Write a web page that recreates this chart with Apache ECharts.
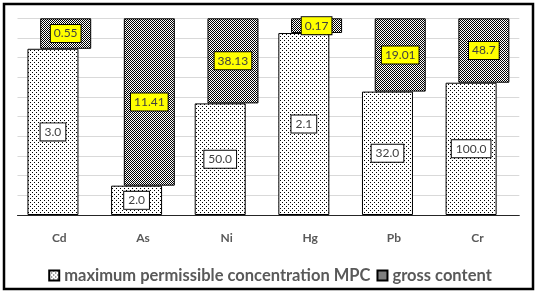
<!DOCTYPE html>
<html>
<head>
<meta charset="utf-8">
<script src="https://cdn.jsdelivr.net/npm/echarts@6/dist/echarts.min.js"></script>
<style>
  html, body { margin: 0; padding: 0; background: #fff; }
  #main { width: 540px; height: 293px; }
</style>
</head>
<body>
<div id="main"></div>
<script>
// metals and their values (labels on the bars)
let metals = ['Cd', 'As', 'Ni', 'Hg', 'Pb', 'Cr'];
let mpcValues = [3.0, 2.0, 50.0, 2.1, 32.0, 100.0];
let grossValues = [0.55, 11.41, 38.13, 0.17, 19.01, 48.7];
let mpcLabels = ['3.0', '2.0', '50.0', '2.1', '32.0', '100.0'];
let grossLabels = ['0.55', '11.41', '38.13', '0.17', '19.01', '48.7'];

// 100% stacked: share of each part in the column total
let mpcShare = mpcValues.map((v, i) => v / (v + grossValues[i]) * 100);
let grossShare = grossValues.map((v, i) => v / (v + mpcValues[i]) * 100);

// fill patterns like the excel ones
function makePattern(size, draw) {
    let c = document.createElement('canvas');
    c.width = size;
    c.height = size;
    let ctx = c.getContext('2d');
    ctx.fillStyle = '#fff';
    ctx.fillRect(0, 0, size, size);
    ctx.fillStyle = '#000';
    draw(ctx);
    return c;
}
let dotted = makePattern(4, function(ctx) {
    ctx.fillRect(0, 0, 1, 1);
    ctx.fillRect(2, 2, 1, 1);
});
let checker = makePattern(2, function(ctx) {
    ctx.fillRect(0, 0, 1, 1);
    ctx.fillRect(1, 1, 1, 1);
});

let myChart = echarts.init(document.getElementById('main'), null, {renderer: 'canvas'});

let labelFont = 'Lato, "Open Sans", sans-serif';

let option = {
    animation: false,
    backgroundColor: '#fff',
    grid: {
        left: 17.5,
        right: 20.7,
        top: 18.3,
        bottom: 78
    },
    legend: {
        top: 262,
        left: 'center',
        itemWidth: 10,
        itemHeight: 10,
        itemGap: 6,
        icon: 'rect',
        data: ['maximum permissible concentration MPC', 'gross content'],
        textStyle: {
            color: '#595959',
            fontFamily: labelFont,
            fontSize: 16.5,
            fontWeight: 'bold',
            padding: [0, 0, 0, 0]
        }
    },
    xAxis: {
        type: 'category',
        data: metals,
        axisLine: { lineStyle: { color: '#262626', width: 1 } },
        axisTick: { show: false },
        axisLabel: {
            margin: 17,
            color: '#595959',
            fontFamily: labelFont,
            fontWeight: 'bold',
            fontSize: 12
        }
    },
    yAxis: {
        type: 'value',
        min: 0,
        max: 100,
        interval: 10,
        axisLabel: { show: false },
        axisLine: { show: false },
        axisTick: { show: false },
        splitLine: { lineStyle: { color: '#d9d9d9', width: 1 } }
    },
    series: [
        {
            name: 'maximum permissible concentration MPC',
            type: 'bar',
            barWidth: 51,
            barGap: '-75%',
            data: mpcShare,
            itemStyle: {
                color: { image: dotted, repeat: 'repeat' },
                borderColor: '#000',
                borderWidth: 1
            },
            label: {
                show: true,
                position: 'inside',
                formatter: function(p) { return mpcLabels[p.dataIndex]; },
                color: '#404040',
                fontFamily: labelFont,
                fontSize: 12,
                backgroundColor: '#fff',
                borderColor: '#000',
                borderWidth: 1,
                padding: [3, 4, 2, 4]
            },
            z: 2
        },
        {
            name: 'base',
            type: 'bar',
            stack: 'g',
            barWidth: 51,
            barGap: '-75%',
            data: mpcShare,
            itemStyle: { color: 'rgba(0,0,0,0)' },
            emphasis: { disabled: true },
            silent: true,
            z: 1
        },
        {
            name: 'gross content',
            type: 'bar',
            stack: 'g',
            barWidth: 51,
            barGap: '-75%',
            data: grossShare,
            itemStyle: {
                color: { image: checker, repeat: 'repeat' },
                borderColor: '#000',
                borderWidth: 1
            },
            label: {
                show: true,
                position: 'inside',
                formatter: function(p) { return grossLabels[p.dataIndex]; },
                color: '#404040',
                fontFamily: labelFont,
                fontSize: 12,
                backgroundColor: '#ffff00',
                borderColor: '#000',
                borderWidth: 1,
                padding: [3, 3, 2, 3]
            },
            z: 3
        }
    ],
    graphic: [
        {
            type: 'rect',
            shape: { x: 4, y: 4, width: 529, height: 285 },
            style: { fill: 'none', stroke: '#000', lineWidth: 2.5 },
            silent: true
        }
    ]
};

myChart.setOption(option);

window.addEventListener('resize', function() {
    myChart.resize();
});
</script>
</body>
</html>
